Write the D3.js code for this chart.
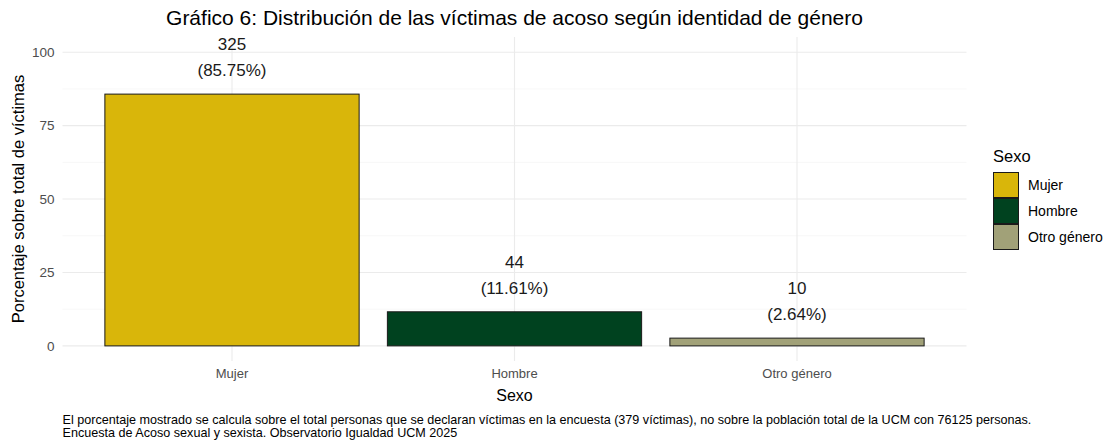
<!DOCTYPE html>
<html>
<head>
<meta charset="utf-8">
<script src="https://cdn.jsdelivr.net/npm/d3@7"></script>
<style>
  body { margin: 0; background: #fff; }
  svg { font-family: "Liberation Sans", Arial, sans-serif; }
</style>
</head>
<body>
<div id="chart"></div>
<script>
// data
const categories = ['Mujer', 'Hombre', 'Otro género'];
const counts = [325, 44, 10];
const percents = [85.75, 11.61, 2.64];
const colors = ['#D9B60A', '#00421F', '#A1A178'];
const yTicks = [0, 25, 50, 75, 100];
const yMinor = [12.5, 37.5, 62.5, 87.5];

const width = 1108, height = 443;
const panel = {left: 62.5, right: 966.5, top: 37, bottom: 361};

const svg = d3.select('#chart').append('svg')
  .attr('width', width)
  .attr('height', height);

// scales
const x = d3.scaleBand()
  .domain(categories)
  .range([panel.left, panel.right])
  .paddingInner(0.1)
  .paddingOuter(0.15);

const y = d3.scaleLinear()
  .domain([-5.15, 105.2])
  .range([panel.bottom, panel.top]);

// gridlines
svg.append('g').selectAll('line.minor')
  .data(yMinor)
  .join('line')
  .attr('x1', panel.left).attr('x2', panel.right)
  .attr('y1', d => y(d)).attr('y2', d => y(d))
  .attr('stroke', '#F2F2F2').attr('stroke-width', 0.6);

svg.append('g').selectAll('line.major')
  .data(yTicks)
  .join('line')
  .attr('x1', panel.left).attr('x2', panel.right)
  .attr('y1', d => y(d)).attr('y2', d => y(d))
  .attr('stroke', '#EBEBEB').attr('stroke-width', 1.1);

svg.append('g').selectAll('line.vert')
  .data(categories)
  .join('line')
  .attr('x1', d => x(d) + x.bandwidth() / 2).attr('x2', d => x(d) + x.bandwidth() / 2)
  .attr('y1', panel.top).attr('y2', panel.bottom)
  .attr('stroke', '#EBEBEB').attr('stroke-width', 1.1);

// bars
svg.append('g').selectAll('rect')
  .data(categories)
  .join('rect')
  .attr('x', d => x(d))
  .attr('width', x.bandwidth())
  .attr('y', (d, i) => y(percents[i]))
  .attr('height', (d, i) => y(0) - y(percents[i]))
  .attr('fill', (d, i) => colors[i])
  .attr('stroke', '#1a1a1a')
  .attr('stroke-width', 1);

// bar labels
const labels = svg.append('g').selectAll('text')
  .data(categories)
  .join('text')
  .attr('text-anchor', 'middle')
  .attr('fill', '#1a1a1a')
  .style('font-size', '17px');

labels.append('tspan')
  .attr('x', d => x(d) + x.bandwidth() / 2)
  .attr('y', (d, i) => y(percents[i]) - 44)
  .text((d, i) => counts[i]);

labels.append('tspan')
  .attr('x', d => x(d) + x.bandwidth() / 2)
  .attr('y', (d, i) => y(percents[i]) - 18)
  .text((d, i) => `(${percents[i].toFixed(2)}%)`);

// axes
const yAxis = svg.append('g')
  .attr('transform', `translate(${panel.left - 8},0)`)
  .call(d3.axisLeft(y).tickValues(yTicks).tickSize(0).tickPadding(0));
yAxis.select('.domain').remove();
yAxis.selectAll('text').style('font-size', '13.5px').attr('fill', '#4D4D4D')
  .attr('font-family', 'Liberation Sans, Arial, sans-serif');

const xAxis = svg.append('g')
  .attr('transform', `translate(0,${panel.bottom + 8})`)
  .call(d3.axisBottom(x).tickSize(0).tickPadding(0));
xAxis.select('.domain').remove();
xAxis.selectAll('text').style('font-size', '13px').attr('fill', '#4D4D4D')
  .attr('font-family', 'Liberation Sans, Arial, sans-serif');

// titles
svg.append('text')
  .attr('x', (panel.left + panel.right) / 2)
  .attr('y', 25)
  .attr('text-anchor', 'middle')
  .style('font-size', '21px')
  .attr('fill', '#000')
  .text('Gráfico 6: Distribución de las víctimas de acoso según identidad de género');

svg.append('text')
  .attr('x', (panel.left + panel.right) / 2)
  .attr('y', 401)
  .attr('text-anchor', 'middle')
  .style('font-size', '16px')
  .text('Sexo');

svg.append('text')
  .attr('transform', `translate(24,${(panel.top + panel.bottom) / 2}) rotate(-90)`)
  .attr('text-anchor', 'middle')
  .style('font-size', '16.5px')
  .text('Porcentaje sobre total de víctimas');

// caption
const caption = svg.append('text')
  .attr('x', panel.left)
  .attr('y', 424)
  .style('font-size', '12.6px');
caption.append('tspan').attr('x', panel.left).attr('dy', 0)
  .text('El porcentaje mostrado se calcula sobre el total personas que se declaran víctimas en la encuesta (379 víctimas), no sobre la población total de la UCM con 76125 personas.');
caption.append('tspan').attr('x', panel.left).attr('dy', 13)
  .text('Encuesta de Acoso sexual y sexista. Observatorio Igualdad UCM 2025');

// legend
const legend = svg.append('g').attr('transform', 'translate(993,172)');
legend.append('text')
  .attr('x', 0).attr('y', -10)
  .style('font-size', '16.5px')
  .text('Sexo');

const keySize = 26;
const items = legend.selectAll('g.item')
  .data(categories)
  .join('g')
  .attr('transform', (d, i) => `translate(0,${i * keySize})`);

items.append('rect')
  .attr('x', 0.5).attr('y', 0.5)
  .attr('width', keySize - 1).attr('height', keySize - 1)
  .attr('fill', (d, i) => colors[i])
  .attr('stroke', '#1a1a1a')
  .attr('stroke-width', 1);

items.append('text')
  .attr('x', keySize + 9)
  .attr('y', keySize / 2)
  .attr('dy', '0.35em')
  .style('font-size', '14px')
  .text(d => d);
</script>
</body>
</html>
